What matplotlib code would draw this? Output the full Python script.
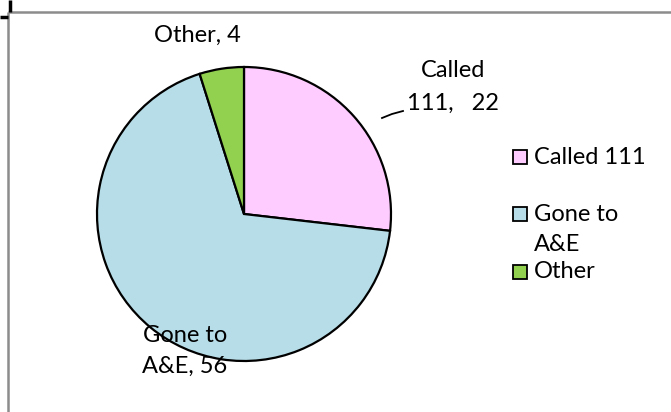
import matplotlib.pyplot as plt
from matplotlib.patches import Rectangle

labels = ["Called 111", "Gone to A&E", "Other"]
values = [22, 56, 4]
colors = ["#FFCCFF", "#B7DEE8", "#92D050"]
legend_labels = ["Called 111", "Gone to\nA&E", "Other"]

plt.rcParams['font.family'] = ['Lato', 'DejaVu Sans']

W, H = 671, 412
fig = plt.figure(figsize=(W / 100, H / 100), dpi=100)
ax = fig.add_axes([0, 0, 1, 1])

# pie, in pixel coordinates (y measured from bottom)
cx, cy, r = 244, H - 214, 147
ax.pie(values, colors=colors, startangle=90, counterclock=False,
       center=(cx, cy), radius=r, frame=True,
       wedgeprops=dict(edgecolor="black", linewidth=1.6))

ax.set_xlim(0, W)
ax.set_ylim(0, H)
ax.axis('off')

fs = 17
ax.text(197, H - 35, "Other, 4", fontsize=fs, ha='center', va='center')
ax.text(453, H - 70, "Called", fontsize=fs, ha='center', va='center')
ax.text(453, H - 103, "111,   22", fontsize=fs, ha='center', va='center')
ax.plot([382, 392, 403], [H - 118, H - 114, H - 111], color="black", lw=1.3)
ax.text(185, H - 335, "Gone to", fontsize=fs, ha='center', va='center')
ax.text(185, H - 366, "A&E, 56", fontsize=fs, ha='center', va='center')

# legend
leg_y = [157, 214, 272]
for lab, col, y in zip(legend_labels, colors, leg_y):
    ax.add_patch(Rectangle((513, H - y - 7), 14, 14, facecolor=col,
                           edgecolor="black", lw=1.3))
    lines = lab.split("\n")
    for i, line in enumerate(lines):
        ax.text(534, H - y - i * 30, line, fontsize=fs, ha='left', va='center')

# chart frame
ax.plot([8, W], [H - 12, H - 12], color="#8c8c8c", lw=1.8, solid_capstyle='butt')
ax.plot([8, 8], [H - 12, 0], color="#8c8c8c", lw=1.8, solid_capstyle='butt')
ax.plot([10, 10], [H, H - 12], color="black", lw=2.5, solid_capstyle='butt')
ax.plot([0, 8], [H - 17, H - 17], color="black", lw=2.5, solid_capstyle='butt')

fig.savefig("out.png", dpi=100)
